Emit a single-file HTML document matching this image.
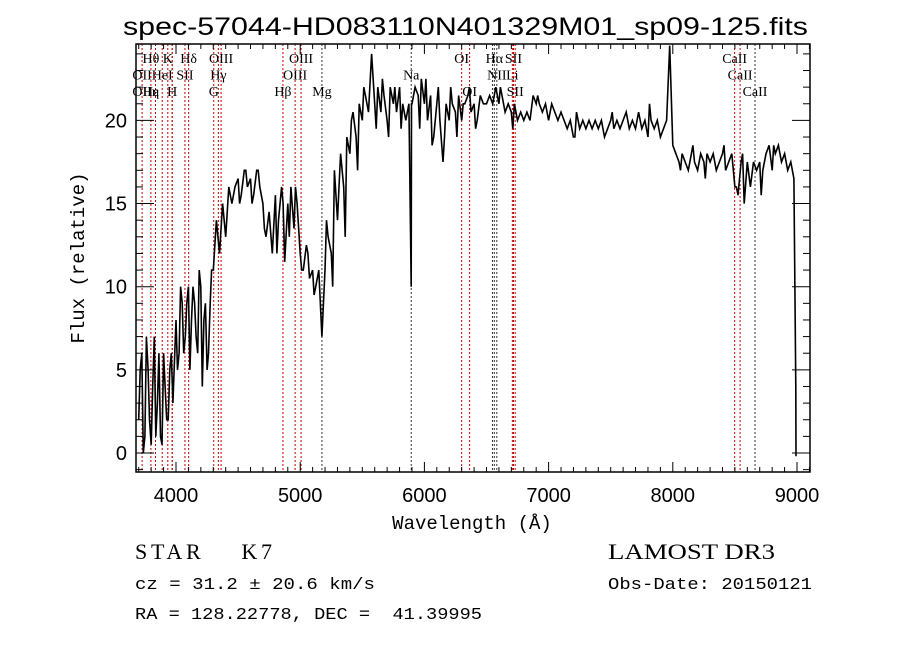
<!DOCTYPE html>
<html><head><meta charset="utf-8"><style>
body{margin:0;background:#fff;}
svg text{fill:#000;white-space:pre;}
.serif{font-family:"Liberation Serif","DejaVu Serif",serif;}
.sans{font-family:"Liberation Sans","DejaVu Sans",sans-serif;}
.mono{font-family:"Liberation Mono","DejaVu Sans Mono",monospace;}
</style></head><body>
<svg id="chart" width="900" height="649" xmlns="http://www.w3.org/2000/svg">
<rect width="900" height="649" fill="#fff"/>
<text class="sans" x="123" y="35" font-size="25" textLength="685" lengthAdjust="spacingAndGlyphs">spec-57044-HD083110N401329M01_sp09-125.fits</text>
<g id="lines"></g>
<g id="labels"></g>
<g id="series"></g>
<g id="axes"></g>
<text class="mono" x="472" y="529" font-size="19" text-anchor="middle">Wavelength (Å)</text>
<text class="mono" transform="translate(84,258) rotate(-90)" font-size="19" text-anchor="middle">Flux (relative)</text>
<text class="serif" x="135" y="559" font-size="22" textLength="137" lengthAdjust="spacing">STAR    K7</text>
<text class="serif" x="608" y="559" font-size="22" textLength="167" lengthAdjust="spacingAndGlyphs">LAMOST DR3</text>
<text class="mono" x="135" y="589" font-size="17" textLength="240" lengthAdjust="spacingAndGlyphs">cz = 31.2 ± 20.6 km/s</text>
<text class="mono" x="608" y="589" font-size="17" textLength="204" lengthAdjust="spacingAndGlyphs">Obs-Date: 20150121</text>
<text class="mono" x="135" y="619" font-size="17" textLength="347" lengthAdjust="spacingAndGlyphs">RA = 128.22778, DEC =  41.39995</text>
</svg>
<script>
const wl=[];const flux=[];
const segStart=[3700,4000,4300,4500,4800,5000,5200,5400,5600,5900,6200,6500,6800,7100,7400,7700,8000,8300,8600,8900];
const segVals=[
[2,6,1,5,0.5,7,3,1,6,2,5,3],
[8,6,9,7,10,8,9,6,10,8,5,9],
[11,14,12,15,13,16,15,16],
[16.5,15.5,17,16,16.5,15.5,17,16,15,13,14.5,12],
[15.5,14,16,11.5,15,16,13.5,15],
[12,11,12.5,10.5,11,10,11,7],
[11,13,12,17,14,18,16,19],
[18,20.5,19,21,20,21.5,20.5,24],
[21,22,20.5,21.5,20,22,21,20.5,22,21,20,21],
[21,22,21.5,22.5,21,20,21.5,19,21,20,17.5,21],
[20,21,20.5,21.5,20,21,21.5,20.5,21,20,21.5,21],
[21,21.5,21,22,21,21.5,20.5,21,20.5,21,20,20.5],
[20,20.5,20,21.5,21,21,20.5,21,20,21,20.5,20],
[20.5,20,19.5,20,19,20.5,19.5,20,19.5,20,19.5,20],
[19.5,20,19,19.5,20,19.5,20,19.5,20,20.5,19.5,20],
[19.5,20.5,19.5,20,19,20,19.5,20,19,19.5,20,24.5],
[18.5,18,17.5,18,17.5,17,18,17.5,17,18,17.5,18],
[17.5,18,17,17.5,18,17,17.5,18,16,15.5,17.5,15],
[17.5,16,17.5,17,17.5,17,18,18.5,17,18,18.5,17.5],
[18,17,17.5,16.5,4,-0.2]];
const extraWl=[3712,3737,3762,3787,3812,3837,3862,3887,3912,3937,3962,4012,4037,4062,4087,4112,4137,4162,4187,4212,4237,4262,4287,4512,4562,4612,4662,4712,4812,4862,4912,4962,5012,5062,5112,5212,5262,5312,5362,5412,5462,5512,5612,5662,5712,5762,5812,5894,5896,5962,6012,6062,6112,6162,6212,6262,6312,6362,6412,6612,6712,6912,7212,7512,7812,8062,8162,8262,8412,8512,8562,8712,8812];
const extraFlux=[5,0,7,2,4,1,6,0.5,4,2,6,5,10,6,9,5,10,7,11,4,9,6,11,15,17,15,17,13.5,12,15,13,16,11,12,9.5,14,10,16,13,20,17,22,19.5,22.5,19,22,19.5,10,21,19.5,22.5,18.5,22,19,22,19,21,22,19.5,22,19.5,21.5,19,20.5,21,17,18.5,16.5,18.5,16,18,15.5,18.5];
const xTicks=[4000,5000,6000,7000,8000,9000];
const yTicks=[0,5,10,15,20];
const lineWl=[3727,3798,3835,3889,3934,3969,3970,4072,4102,4304,4341,4363,4861,4959,5007,5175,5894,6300,6364,6548,6563,6583,6708,6717,6731,8498,8542,8662];
const lineColor=['r','r','r','r','r','r','r','r','r','r','r','r','r','r','r','k','k','r','r','k','k','k','r','r','r','r','r','k'];
const labText=['Hθ','K','Hδ','OIII','OIII','OI','Hα','SII','CaII','OII','HeI','SII','Hγ','OIII','Na','NII','Li','CaII','OII','Hε','η','H','G','Hβ','Mg','OI','SII','CaII'];
const labWl=[3798,3934,4102,4363,5007,6300,6563,6717,8498,3727,3889,4072,4341,4959,5894,6583,6708,8542,3727,3798,3835,3969,4304,4861,5175,6364,6731,8662];
const labRow=[0,0,0,0,0,0,0,0,0,1,1,1,1,1,1,1,1,1,2,2,2,2,2,2,2,2,2,2];

segStart.forEach((s,i)=>{segVals[i].forEach((v,j)=>{let w=s+25*j;if(i===19&&j===4)w=8990;if(i===19&&j===5)w=8992;wl.push(w);flux.push(v);});});
extraWl.forEach((w,i)=>{wl.push(w);flux.push(extraFlux[i]);});
const ord=wl.map((w,i)=>i).sort((a,b)=>wl[a]-wl[b]);

const L=136,R=810,T=44,B=472;
const X=w=>176+(w-4000)*0.1242;
const Y=f=>453-f*16.63;
const NS='http://www.w3.org/2000/svg';
function mk(tag,attrs,parent){const e=document.createElementNS(NS,tag);for(const k in attrs)e.setAttribute(k,attrs[k]);parent.appendChild(e);return e;}

const gl=document.getElementById('lines');
lineWl.forEach((w,i)=>{
 const e=mk('line',{x1:X(w),x2:X(w),y1:T,y2:B,stroke:lineColor[i]==='r'?'#c00000':'#333','stroke-width':1,'stroke-dasharray':'2,2'},gl);
 
 
});
const glab=document.getElementById('labels');
labText.forEach((t,i)=>{
 const e=mk('text',{x:X(labWl[i]),y:63+labRow[i]*16.5,'font-size':14,'text-anchor':'middle','class':'serif'},glab);
 e.textContent=t;
 
 
});
const gs=document.getElementById('series');
const pts=ord.map(i=>X(wl[i]).toFixed(1)+','+Y(flux[i]).toFixed(1)).join(' ');
const pl=mk('polyline',{points:pts,fill:'none',stroke:'#000','stroke-width':1.6},gs);



const ga=document.getElementById('axes');
const fr=mk('rect',{x:L,y:T,width:R-L,height:B-T,fill:'none',stroke:'#000','stroke-width':1.5},ga);


for(let w=3700;w<=9100;w+=100){
 const major=w%1000===0,len=major?10:5;
 mk('line',{x1:X(w),x2:X(w),y1:B,y2:B-len,stroke:'#000'},ga);
 mk('line',{x1:X(w),x2:X(w),y1:T,y2:T+len,stroke:'#000'},ga);
}
xTicks.forEach(w=>{
 const e=mk('text',{x:X(w),y:B+30,'font-size':20,'text-anchor':'middle','class':'sans'},ga);
 e.textContent=w;
 
 
});
for(let f=-1;f<=24;f++){
 const len=f%5===0?18:7;
 mk('line',{x1:L,x2:L+len,y1:Y(f),y2:Y(f),stroke:'#000'},ga);
 mk('line',{x1:R,x2:R-len,y1:Y(f),y2:Y(f),stroke:'#000'},ga);
}
yTicks.forEach(f=>{
 const e=mk('text',{x:127,y:Y(f)+7,'font-size':20,'text-anchor':'end','class':'sans'},ga);
 e.textContent=f;
 
 
});
</script>
</body></html>
